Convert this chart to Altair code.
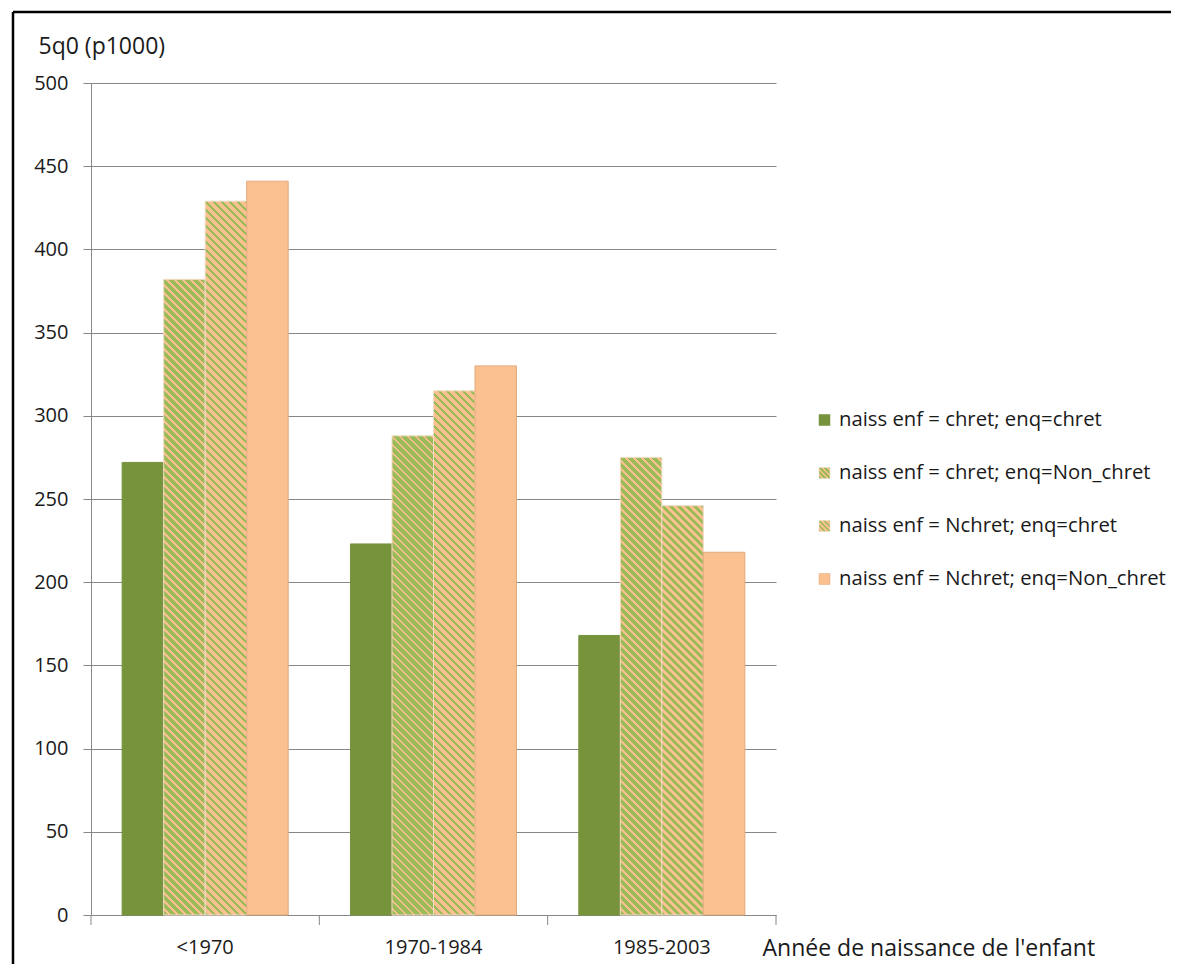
import altair as alt

# ---------------- data ----------------
periods = ["<1970", "1970-1984", "1985-2003"]
series = [
    "naiss enf = chret; enq=chret",
    "naiss enf = chret; enq=Non_chret",
    "naiss enf = Nchret; enq=chret",
    "naiss enf = Nchret; enq=Non_chret",
]
s1_values = [272, 223, 168]
s2_values = [382, 288, 275]
s3_values = [429, 315, 246]
s4_values = [441, 330, 218]
all_values = [s1_values, s2_values, s3_values, s4_values]
y_ticks = [0, 50, 100, 150, 200, 250, 300, 350, 400, 450, 500]

# ---------------- style ----------------
W, H = 685, 832
YMAX = 500
FONT = "Open Sans"
TXT = "#1a1a1a"
GRID = "#878787"
DARK = "#77933C"
GREEN = "#9BBB59"
PEACH = "#FAC090"
green_frac = [None, 0.64, 0.4, None]
PERIOD = 8.0  # horizontal period of hatch stripes (px)


def hatch(w, h, frac, period=PERIOD):
    """Diagonal '\\' stripes as a linear gradient in bounding-box units."""
    span = w + h
    s = span / (w * w + h * h)
    p = period / span
    stops = []
    k = 0
    while k * p < 1:
        t0 = round(k * p, 5)
        t1 = round(min(k * p + frac * p, 1), 5)
        t2 = round(min((k + 1) * p, 1), 5)
        stops.append({"offset": t0, "color": GREEN})
        stops.append({"offset": t1, "color": GREEN})
        if t1 < 1:
            stops.append({"offset": t1, "color": PEACH})
            stops.append({"offset": t2, "color": PEACH})
        k += 1
    return {"gradient": "linear", "x1": 0, "y1": 1,
            "x2": round(s * w, 5), "y2": round(1 - s * h, 5), "stops": stops}


bar_w = W / len(periods) / (len(series) + 1.5)
strokes = [DARK, "#F3DCC6", "#F3DCC6", "#E2AA7E"]

rows = []
for si, name in enumerate(series):
    for pi, per in enumerate(periods):
        v = all_values[si][pi]
        if green_frac[si] is None:
            fill = DARK if si == 0 else PEACH
        else:
            fill = hatch(bar_w, v * H / YMAX, green_frac[si])
        rows.append({"period": per, "series": name, "value": v,
                     "fill": fill, "stroke": strokes[si]})

leg_rows = []
for si, name in enumerate(series):
    if green_frac[si] is None:
        fill = DARK if si == 0 else PEACH
    else:
        fill = hatch(11, 11, green_frac[si], 5.0)
    leg_rows.append({"series": name, "fill": fill, "stroke": strokes[si]})

# ---------------- chart ----------------
x_scale = alt.Scale(paddingInner=0, paddingOuter=0)
x_axis = alt.Axis(title="Année de naissance de l'enfant", labelAngle=0,
                  ticks=False, labelPadding=22, domainColor=GRID,
                  titleX=671, titleY=33, titleAlign="left",
                  titleAnchor="start", titleBaseline="middle")

bars = alt.Chart(alt.Data(values=rows)).mark_bar(strokeWidth=1).encode(
    x=alt.X("period:N", sort=periods, scale=x_scale, axis=x_axis),
    xOffset=alt.XOffset("series:N", sort=series,
                        scale=alt.Scale(paddingInner=0, paddingOuter=0.75)),
    y=alt.Y("value:Q", stack=None,
            scale=alt.Scale(domain=[0, YMAX], nice=False),
            axis=alt.Axis(values=y_ticks, title="5q0 (p1000)", titleAngle=0,
                          titleX=-53, titleY=-37, titleAlign="left",
                          titleBaseline="middle", grid=True, gridColor=GRID,
                          gridOpacity=1, tickSize=8, tickColor=GRID,
                          domainColor=GRID, labelPadding=15)),
    fill=alt.Fill("fill:N", scale=None),
    stroke=alt.Stroke("stroke:N", scale=None),
)

tick_src = alt.Data(values=[{"period": p} for p in periods])
ticks_start = alt.Chart(tick_src).mark_rule(color=GRID, strokeWidth=1).encode(
    x=alt.X("period:N", sort=periods, bandPosition=0, scale=x_scale, axis=x_axis),
    y=alt.value(H), y2=alt.value(H + 10),
)
tick_end = alt.Chart(alt.Data(values=[{"period": periods[-1]}])).mark_rule(
    color=GRID, strokeWidth=1).encode(
    x=alt.X("period:N", sort=periods, bandPosition=1, scale=x_scale, axis=x_axis),
    y=alt.value(H), y2=alt.value(H + 10),
)

leg_y = alt.Y("series:N", sort=series,
              scale=alt.Scale(type="point", domain=series, range=[337, 496], padding=0),
              axis=None)
leg_sym = alt.Chart(alt.Data(values=leg_rows)).mark_square(
    size=121, opacity=1, strokeWidth=0.5).encode(
    x=alt.value(733.5), y=leg_y,
    fill=alt.Fill("fill:N", scale=None),
    stroke=alt.Stroke("stroke:N", scale=None),
)
leg_txt = alt.Chart(alt.Data(values=leg_rows)).mark_text(
    align="left", baseline="middle", font=FONT, fontSize=20.3, color=TXT).encode(
    x=alt.value(748), y=leg_y, text="series:N",
)

one = alt.Data(values=[{"k": 1}])
frame_top = alt.Chart(one).mark_rule(color="#000000", strokeWidth=2.5).encode(
    x=alt.value(-78), x2=alt.value(1080), y=alt.value(-71))
frame_left = alt.Chart(one).mark_rule(color="#000000", strokeWidth=2.5).encode(
    x=alt.value(-78), y=alt.value(-71), y2=alt.value(881))

chart = alt.layer(
    frame_top, frame_left, ticks_start, tick_end, bars, leg_sym, leg_txt
).resolve_scale(y="independent").properties(
    width=W, height=H,
    padding={"left": 3, "top": 2, "right": 2, "bottom": 2},
).configure_view(stroke=None).configure_axis(
    labelFont=FONT, titleFont=FONT, labelFontSize=20, titleFontSize=23,
    labelColor=TXT, titleColor=TXT, titleFontWeight="normal",
)

chart.save("out.html", embed_options={"renderer": "svg", "actions": False})
